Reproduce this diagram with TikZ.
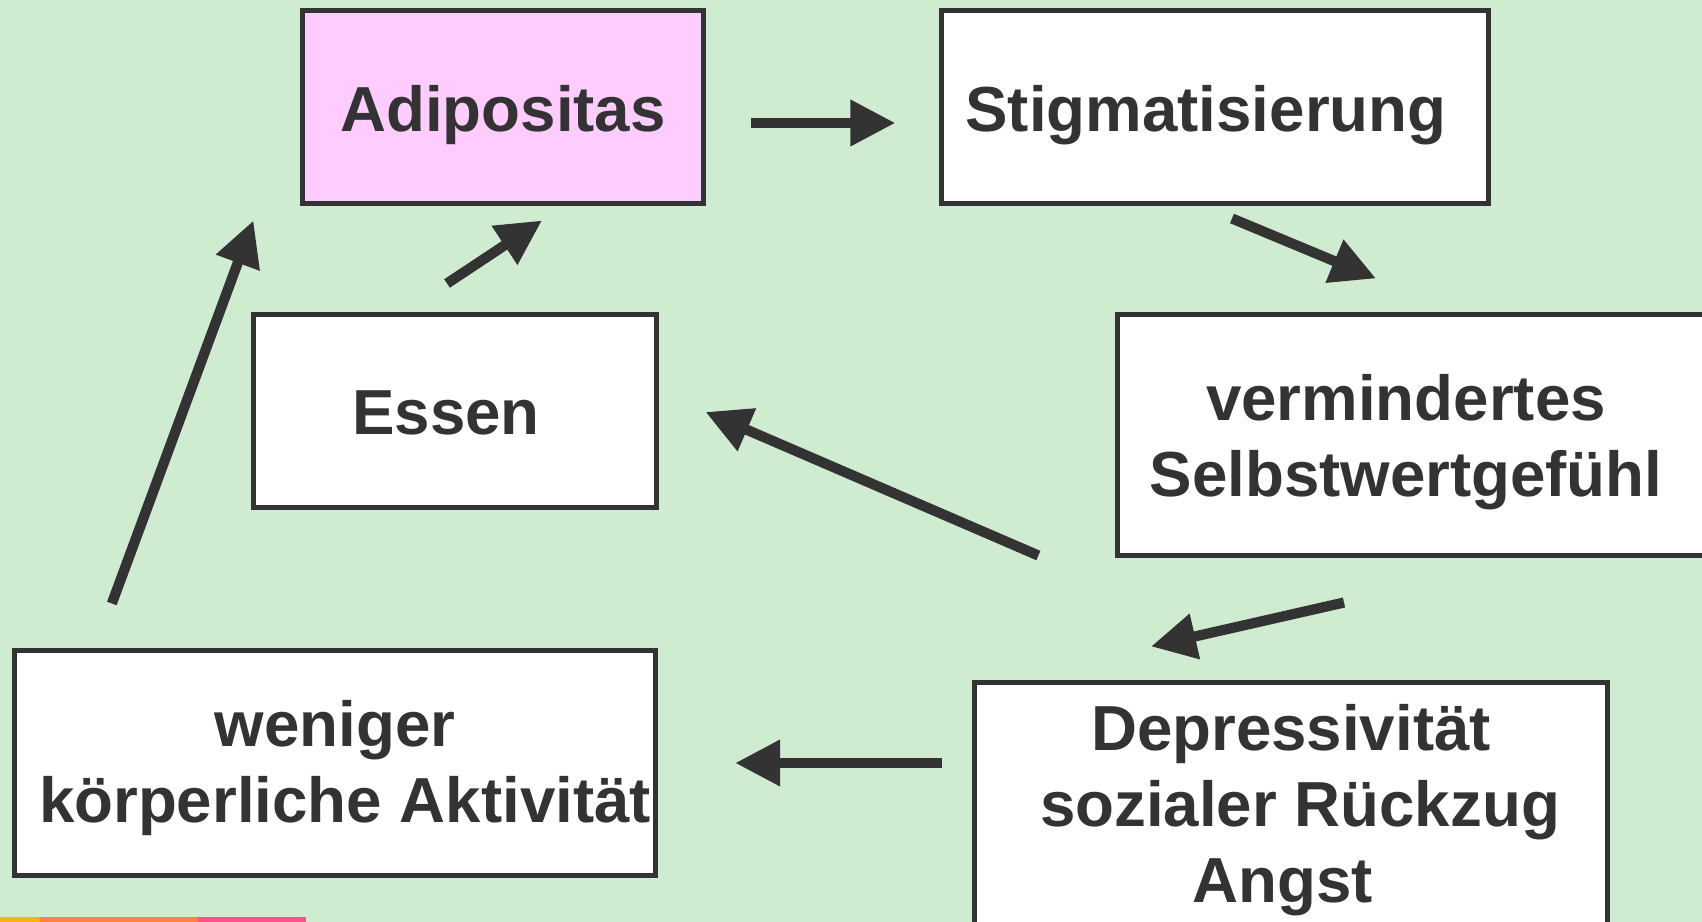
\documentclass[tikz,border=0pt]{standalone}
\usepackage{fontspec}
\setmainfont{Liberation Sans}
\usetikzlibrary{arrows.meta}
\definecolor{bggreen}{HTML}{CFEBD0}
\definecolor{adippink}{HTML}{FFCCFF}
\definecolor{darkline}{HTML}{333333}
\definecolor{stripyellow}{HTML}{FFB015}
\definecolor{striporange}{HTML}{FF8040}
\definecolor{strippink}{HTML}{FF5088}
\begin{document}
\begin{tikzpicture}[x=0.01cm, y=-0.01cm,
    box/.style={rectangle, draw=darkline, line width=1.4pt, fill=white, inner sep=0pt},
    boxtext/.style={inner sep=0pt, align=center, text=darkline, font=\fontsize{18.1}{21.6}\selectfont\bfseries},
    arr/.style={draw=darkline, line width=2.9pt, -{Triangle[length=0.45cm, width=0.44cm]}}]
    \useasboundingbox (0,0) rectangle (1702,922);
    \fill[bggreen] (0,0) rectangle (1702,922);
    \clip (0,0) rectangle (1702,922);
    % boxes
    \node[box, fill=adippink, minimum width=4cm, minimum height=1.92cm,
        label={[boxtext, yshift=-0.08cm]center:Adipositas}] (adip) at (503,107) {};
    \node[box, minimum width=5.46cm, minimum height=1.92cm,
        label={[boxtext, xshift=-0.09cm, yshift=-0.08cm]center:Stigmatisierung}] (stig) at (1215,107) {};
    \node[box, minimum width=5.94cm, minimum height=2.4cm,
        label={[boxtext, xshift=-0.09cm, yshift=-0.075cm]center:vermindertes\\Selbstwertgefühl}] (selbst) at (1415,435) {};
    \node[box, minimum width=4.02cm, minimum height=1.92cm,
        label={[boxtext, xshift=-0.09cm, yshift=-0.02cm]center:Essen}] (essen) at (455,411) {};
    \node[box, minimum width=6.41cm, minimum height=2.24cm,
        label={[boxtext, yshift=-0.05cm]center:weniger\\\hspace*{0.2cm}körperliche Aktivität}] (weniger) at (335,763) {};
    \node[box, minimum width=6.32cm, minimum height=2.52cm,
        label={[boxtext, yshift=-0.01cm]center:Depressivität\\\hspace*{0.18cm}sozialer Rückzug\\Angst\hspace*{0.16cm}}] (depr) at (1291,809) {};
    % arrows
    \draw[arr] ([shift={(45,16)}]adip.east) -- ([shift={(-44,16)}]stig.west);
    \draw[arr] ([shift={(17,13)}]stig.south) -- ([shift={(-39,-34)}]selbst.north);
    \draw[arr] ([shift={(-71,45)}]selbst.south) -- ([shift={(-140,-34)}]depr.north);
    \draw[arr] ([shift={(-30,-46)}]depr.west) -- ([shift={(77,0)}]weniger.east);
    \draw[arr] ([shift={(-77,-2)}]selbst.south west) -- ([shift={(47,1)}]essen.east);
    \draw[arr] ([shift={(-8,-29)}]essen.north) -- ([shift={(39,15)}]adip.south);
    \draw[arr] ([shift={(100,-45)}]weniger.north west) -- ([shift={(-47,15)}]adip.south west);
    % strip at the bottom
    \fill[stripyellow] (0,917) rectangle (40,922);
    \fill[striporange] (40,917) rectangle (198,922);
    \fill[strippink] (198,917) rectangle (306,922);
\end{tikzpicture}
\end{document}
